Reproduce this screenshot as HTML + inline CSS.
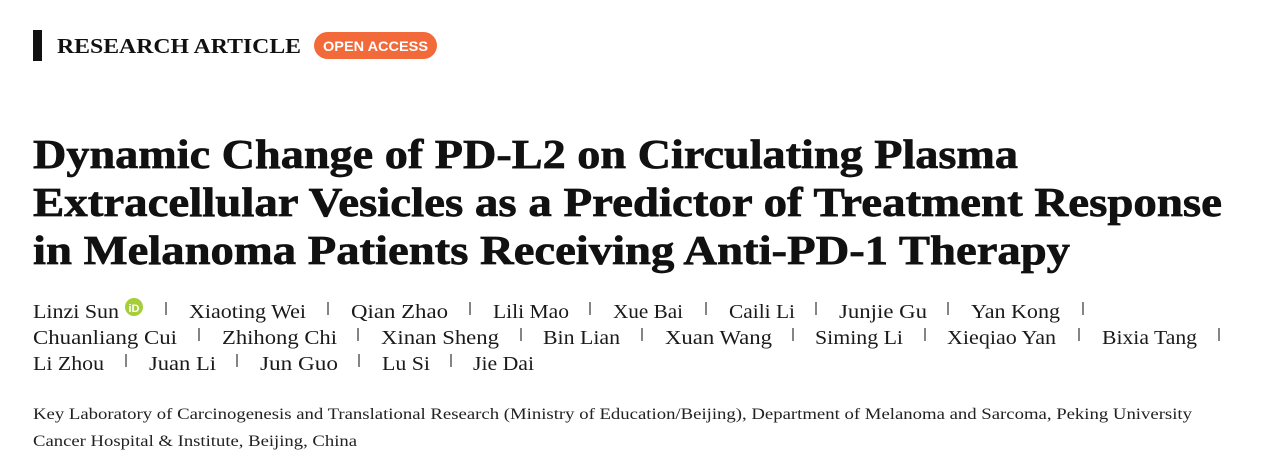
<!DOCTYPE html>
<html><head><meta charset="utf-8"><style>
html,body{margin:0;padding:0;background:#fff;width:1269px;height:468px;overflow:hidden}
svg{display:block}
.t{font-family:"Liberation Serif",serif;font-weight:bold;font-size:41px;fill:#111;stroke:#111;stroke-width:0.7}
.n{font-family:"Liberation Serif",serif;font-size:20px;fill:#1a1a1a}
.a{font-family:"Liberation Serif",serif;font-size:15.5px;fill:#222}
</style></head><body>
<svg width="1269" height="468" xmlns="http://www.w3.org/2000/svg">
<rect x="33" y="30" width="9" height="31" fill="#111"/>
<text x="57" y="53" font-family="Liberation Serif,serif" font-weight="bold" font-size="21" fill="#111" textLength="244" lengthAdjust="spacingAndGlyphs">RESEARCH ARTICLE</text>
<rect x="314" y="32" width="123" height="27" rx="13.5" fill="#f26a3a"/>
<text x="375.5" y="51" text-anchor="middle" font-family="Liberation Sans,sans-serif" font-weight="bold" font-size="14" fill="#fff" textLength="105" lengthAdjust="spacingAndGlyphs">OPEN ACCESS</text>

<text class="t" x="33" y="168" textLength="985" lengthAdjust="spacingAndGlyphs">Dynamic Change of PD-L2 on Circulating Plasma</text>
<text class="t" x="33" y="216" textLength="1189" lengthAdjust="spacingAndGlyphs">Extracellular Vesicles as a Predictor of Treatment Response</text>
<text class="t" x="33" y="264" textLength="1037" lengthAdjust="spacingAndGlyphs">in Melanoma Patients Receiving Anti-PD-1 Therapy</text>

<g class="n">
<text class="n" x="33" y="318" textLength="86" lengthAdjust="spacingAndGlyphs">Linzi Sun</text>
<circle cx="134" cy="307" r="9" fill="#a6ce39"/>
<text x="134" y="312" text-anchor="middle" font-family="Liberation Sans,sans-serif" font-size="11" font-weight="bold" fill="#fff">iD</text>
<text class="n" x="189" y="318" textLength="117" lengthAdjust="spacingAndGlyphs">Xiaoting Wei</text>
<text class="n" x="351" y="318" textLength="97" lengthAdjust="spacingAndGlyphs">Qian Zhao</text>
<text class="n" x="493" y="318" textLength="76" lengthAdjust="spacingAndGlyphs">Lili Mao</text>
<text class="n" x="613" y="318" textLength="70" lengthAdjust="spacingAndGlyphs">Xue Bai</text>
<text class="n" x="729" y="318" textLength="66" lengthAdjust="spacingAndGlyphs">Caili Li</text>
<text class="n" x="839" y="318" textLength="88" lengthAdjust="spacingAndGlyphs">Junjie Gu</text>
<text class="n" x="971" y="318" textLength="89" lengthAdjust="spacingAndGlyphs">Yan Kong</text>

<text class="n" x="33" y="344" textLength="144" lengthAdjust="spacingAndGlyphs">Chuanliang Cui</text>
<text class="n" x="222" y="344" textLength="115" lengthAdjust="spacingAndGlyphs">Zhihong Chi</text>
<text class="n" x="381" y="344" textLength="118" lengthAdjust="spacingAndGlyphs">Xinan Sheng</text>
<text class="n" x="543" y="344" textLength="77" lengthAdjust="spacingAndGlyphs">Bin Lian</text>
<text class="n" x="665" y="344" textLength="107" lengthAdjust="spacingAndGlyphs">Xuan Wang</text>
<text class="n" x="815" y="344" textLength="88" lengthAdjust="spacingAndGlyphs">Siming Li</text>
<text class="n" x="947" y="344" textLength="109" lengthAdjust="spacingAndGlyphs">Xieqiao Yan</text>
<text class="n" x="1102" y="344" textLength="95" lengthAdjust="spacingAndGlyphs">Bixia Tang</text>

<text class="n" x="33" y="370" textLength="71" lengthAdjust="spacingAndGlyphs">Li Zhou</text>
<text class="n" x="149" y="370" textLength="67" lengthAdjust="spacingAndGlyphs">Juan Li</text>
<text class="n" x="260" y="370" textLength="78" lengthAdjust="spacingAndGlyphs">Jun Guo</text>
<text class="n" x="382" y="370" textLength="48" lengthAdjust="spacingAndGlyphs">Lu Si</text>
<text class="n" x="473" y="370" textLength="61" lengthAdjust="spacingAndGlyphs">Jie Dai</text>
</g>
<g stroke="#333" stroke-width="1.2">
<line x1="166" y1="302" x2="166" y2="315"/><line x1="328" y1="302" x2="328" y2="315"/><line x1="470" y1="302" x2="470" y2="315"/><line x1="590" y1="302" x2="590" y2="315"/><line x1="706" y1="302" x2="706" y2="315"/><line x1="816" y1="302" x2="816" y2="315"/><line x1="948" y1="302" x2="948" y2="315"/><line x1="1083" y1="302" x2="1083" y2="315"/>
<line x1="199" y1="328" x2="199" y2="341"/><line x1="358" y1="328" x2="358" y2="341"/><line x1="521" y1="328" x2="521" y2="341"/><line x1="642" y1="328" x2="642" y2="341"/><line x1="793" y1="328" x2="793" y2="341"/><line x1="925" y1="328" x2="925" y2="341"/><line x1="1079" y1="328" x2="1079" y2="341"/><line x1="1219" y1="328" x2="1219" y2="341"/>
<line x1="126" y1="354" x2="126" y2="367"/><line x1="237" y1="354" x2="237" y2="367"/><line x1="359" y1="354" x2="359" y2="367"/><line x1="451" y1="354" x2="451" y2="367"/>
</g>

<text class="a" x="33" y="419" textLength="1159" lengthAdjust="spacingAndGlyphs">Key Laboratory of Carcinogenesis and Translational Research (Ministry of Education/Beijing), Department of Melanoma and Sarcoma, Peking University</text>
<text class="a" x="33" y="446" textLength="324" lengthAdjust="spacingAndGlyphs">Cancer Hospital &amp; Institute, Beijing, China</text>
</svg>
</body></html>
